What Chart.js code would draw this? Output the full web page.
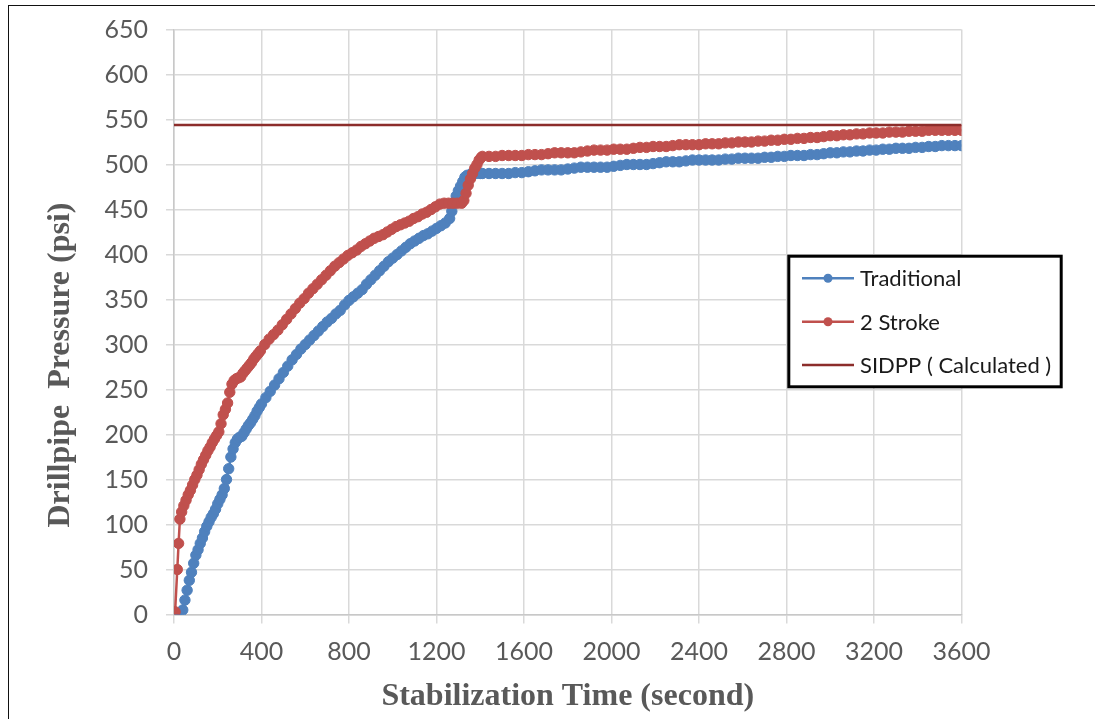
<!DOCTYPE html>
<html>
<head>
<meta charset="utf-8">
<title>Drillpipe Pressure vs Stabilization Time</title>
<script src="https://cdn.jsdelivr.net/npm/chart.js@4/dist/chart.umd.min.js"></script>
<style>
  html, body { margin: 0; padding: 0; background: #fff; overflow: hidden; }
  #wrap { position: relative; width: 1095px; height: 719px; }
  #frame { position: absolute; left: 8px; top: 5px; width: 1300px; height: 900px;
           border: 1.5px solid #111; box-sizing: border-box; }
  canvas { position: absolute; left: 0; top: 0; }
</style>
</head>
<body>
<div id="wrap">
  <div id="frame"></div>
  <canvas id="chart" width="1095" height="719"></canvas>
</div>
<script>
// ---- data (seconds, psi) ----
const seriesNames = ['Traditional', '2 Stroke', 'SIDPP ( Calculated )'];

// shared late-time sampling for both tests
const lateSeconds = [
  1410,1440,1470,1500,1530,1560,1590,1620,1650,1680,
  1710,1740,1770,1800,1830,1860,1890,1920,1950,1980,
  2010,2040,2070,2100,2130,2160,2190,2220,2250,2280,
  2310,2340,2370,2400,2430,2460,2490,2520,2550,2580,
  2610,2640,2670,2700,2730,2760,2790,2820,2850,2880,
  2910,2940,2970,3000,3030,3060,3090,3120,3150,3180,
  3210,3240,3270,3300,3330,3360,3390,3420,3450,3480,
  3510,3540,3570,3600
];

const tradSeconds = [
  10,20,30,40,50,60,70,80,90,100,
  110,120,130,140,150,160,170,180,190,200,
  210,220,230,240,250,260,270,280,290,300,
  310,320,330,340,350,360,370,380,390,400,
  420,440,460,480,500,520,540,560,580,600,
  620,640,660,680,700,720,740,760,780,800,
  820,840,860,880,900,920,940,960,980,1000,
  1020,1040,1060,1080,1100,1120,1140,1160,1180,1200,
  1220,1240,1260,
  1270,1280,1290,1300,1310,1320,1330,1340,1360,1380,1400
].concat(lateSeconds);

const tradPsi = [
  0,0,1,5,16,27,38,47,57,66,
  72,79,85,92,98,103,108,112,117,123,
  128,133,140,150,162,175,184,191,195,197,
  198,202,206,210,213,217,221,226,230,234,
  241,248,255,262,269,276,283,289,295,300,
  305,310,315,320,325,329,334,338,344,349,
  353,357,361,367,372,377,382,387,392,396,
  400,404,408,412,415,418,421,423,426,429,
  432,435,440,
  448,458,465,471,476,481,486,488,490,490,490,
  490,490,490,490,490,491,491,492,493,494,
  494,494,494,495,496,497,497,497,497,497,
  498,499,500,500,500,500,501,502,503,503,
  503,504,505,505,505,505,505,506,506,507,
  507,507,507,508,508,509,509,510,510,510,
  511,511,512,513,513,514,514,515,515,516,
  516,517,517,518,518,518,519,519,520,520,
  521,521,521,521
];

const strokeSeconds = [
  5,15,21,27,35,45,55,65,75,85,
  95,105,115,125,135,145,155,165,175,185,
  195,205,215,225,235,245,255,265,275,285,
  295,305,315,325,335,345,355,365,375,385,
  395,
  415,435,455,475,495,515,535,555,575,595,
  615,635,655,675,695,715,735,755,775,795,
  815,835,855,875,895,915,935,955,975,995,
  1015,1035,1055,1075,1095,1115,1135,1155,1175,1195,
  1215,1235,1255,1275,1295,1315,
  1325,1335,1345,1355,1365,1375,1385,1395,1405
].concat(lateSeconds);

const strokePsi = [
  3,50,79,106,114,121,127,133,138,144,
  150,155,161,167,172,177,182,186,191,195,
  199,203,212,222,228,235,247,256,260,262,
  263,264,268,271,274,277,280,284,287,290,
  293,
  300,306,311,316,322,328,334,340,346,351,
  357,362,367,372,377,382,387,391,395,399,
  402,405,409,412,415,418,420,422,425,428,
  431,433,435,437,440,442,445,447,450,453,
  456,457,457,457,457,457,
  460,468,477,484,490,496,500,505,508,
  509,509,509,510,510,510,510,511,511,511,
  512,513,513,513,513,514,515,516,516,516,
  517,517,517,518,519,519,520,520,520,521,
  522,522,522,522,523,523,523,524,524,525,
  525,525,526,526,527,527,528,528,529,529,
  530,530,531,532,532,533,533,534,534,535,
  535,535,536,536,536,537,537,537,538,538,
  538,538,538,538
];

const sidppSeconds = [0, 3600];
const sidppPsi = [544, 544];

const xTicks = { min: 0, max: 3600, step: 400 };
const yTicks = { min: 0, max: 650, step: 50 };
const xTitle = 'Stabilization Time (second)';
const yTitle = 'Drillpipe  Pressure (psi)';

// ---- helpers ----
const toPoints = (xs, ys) => xs.map((x, i) => ({ x: x, y: ys[i] }));

const TICK_FAMILY = 'Lato, "Open Sans", sans-serif';
const TITLE_FONT = '"Liberation Serif", "Times New Roman", serif';
const GREY_TEXT = '#595959';

// y axis title, placed a little below the centre of the plot
const yTitlePlugin = {
  id: 'yTitleText',
  afterDraw(chart) {
    const { ctx, chartArea: a } = chart;
    ctx.save();
    ctx.translate(61, a.top + (a.bottom - a.top) * 0.5735);
    ctx.rotate(-Math.PI / 2);
    ctx.font = 'bold 32px ' + TITLE_FONT;
    ctx.fillStyle = GREY_TEXT;
    ctx.textAlign = 'center';
    ctx.textBaseline = 'middle';
    ctx.fillText(yTitle, 0, 0);
    ctx.restore();
  }
};

// boxed legend inside the plot, right-hand side
const boxLegendPlugin = {
  id: 'boxLegend',
  afterDraw(chart) {
    const ctx = chart.ctx;
    const left = 788.8, top = 256.2, width = 272.4, height = 130.6;
    ctx.save();
    ctx.fillStyle = '#ffffff';
    ctx.fillRect(left, top, width, height);
    ctx.lineWidth = 3;
    ctx.strokeStyle = '#000000';
    ctx.strokeRect(left, top, width, height);

    ctx.font = '22px Lato, "Open Sans", sans-serif';
    ctx.textAlign = 'left';
    ctx.textBaseline = 'middle';
    chart.data.datasets.forEach((ds, i) => {
      const y = 278.3 + i * 43.4;
      ctx.strokeStyle = ds.borderColor;
      ctx.lineWidth = 2.5;
      ctx.beginPath();
      ctx.moveTo(802, y);
      ctx.lineTo(854, y);
      ctx.stroke();
      if (ds.pointRadius > 0) {
        ctx.fillStyle = ds.borderColor;
        ctx.beginPath();
        ctx.arc(828, y, 4.5, 0, Math.PI * 2);
        ctx.fill();
      }
      ctx.fillStyle = '#1a1a1a';
      ctx.fillText(ds.label, 860, y + 1);
    });
    ctx.restore();
  }
};

new Chart(document.getElementById('chart'), {
  type: 'line',
  data: {
    datasets: [
      {
        label: seriesNames[0],
        data: toPoints(tradSeconds, tradPsi),
        borderColor: '#4F81BD',
        backgroundColor: '#4F81BD',
        borderWidth: 2.5,
        pointRadius: 5.2,
        pointBorderWidth: 1,
        pointBackgroundColor: '#4F81BD',
        pointBorderColor: '#4F81BD',
        tension: 0,
        order: 2
      },
      {
        label: seriesNames[1],
        data: toPoints(strokeSeconds, strokePsi),
        borderColor: '#C0504D',
        backgroundColor: '#C0504D',
        borderWidth: 2.5,
        pointRadius: 5.2,
        pointBorderWidth: 1,
        pointBackgroundColor: '#C0504D',
        pointBorderColor: '#C0504D',
        tension: 0,
        order: 1
      },
      {
        label: seriesNames[2],
        data: toPoints(sidppSeconds, sidppPsi),
        borderColor: '#8C2D2B',
        backgroundColor: '#8C2D2B',
        borderWidth: 2.5,
        pointRadius: 0,
        tension: 0,
        order: 0
      }
    ]
  },
  options: {
    responsive: false,
    animation: false,
    devicePixelRatio: 1,
    layout: { padding: { top: 29.5, right: 133.5, bottom: 0, left: 0 } },
    plugins: {
      legend: { display: false },
      tooltip: { enabled: false }
    },
    scales: {
      x: {
        type: 'linear',
        min: xTicks.min,
        max: xTicks.max,
        ticks: {
          stepSize: xTicks.step,
          color: GREY_TEXT,
          font: { family: TICK_FAMILY, size: 25 },
          padding: 13,
          maxRotation: 0,
          autoSkip: false,
          callback: (v) => String(v)
        },
        grid: { color: '#d9d9d9', lineWidth: 1.5, tickLength: 9 },
        border: { color: '#c8c8c8', width: 1.5 },
        title: {
          display: true,
          text: xTitle,
          color: GREY_TEXT,
          font: { family: TITLE_FONT, size: 32, weight: 'bold' },
          padding: { top: 0, bottom: 3 }
        },
        afterFit(scale) { scale.height = 104.5; }
      },
      y: {
        type: 'linear',
        min: yTicks.min,
        max: yTicks.max,
        ticks: {
          stepSize: yTicks.step,
          color: GREY_TEXT,
          // compact line height keeps the top label from pushing the plot down
          font: { family: TICK_FAMILY, size: 25, lineHeight: 0.8 },
          padding: 18,
          callback: (v) => String(v)
        },
        grid: { color: '#d9d9d9', lineWidth: 1.5, tickLength: 8 },
        border: { color: '#c8c8c8', width: 1.5 },
        afterFit(scale) { scale.width = 174; }
      }
    }
  },
  plugins: [yTitlePlugin, boxLegendPlugin]
});
</script>
</body>
</html>
